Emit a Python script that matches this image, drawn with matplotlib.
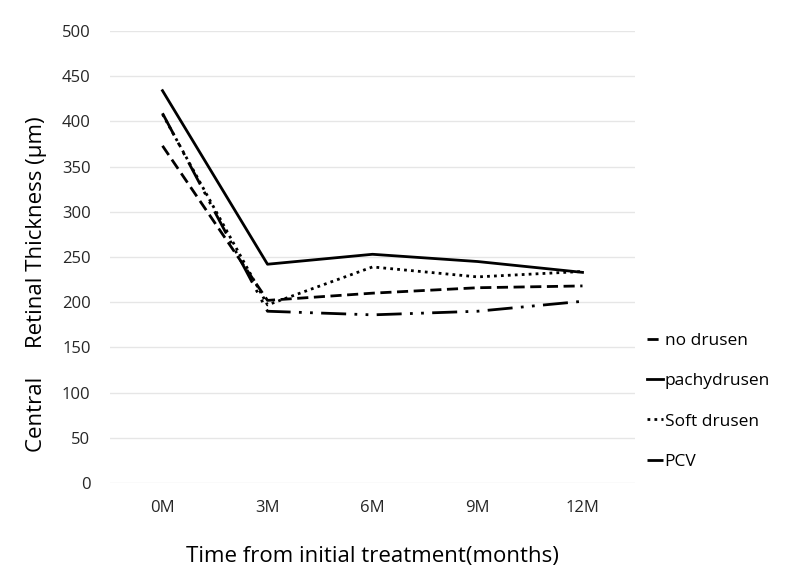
import matplotlib
matplotlib.use("Agg")
import matplotlib.pyplot as plt

months = ["0M", "3M", "6M", "9M", "12M"]
no_drusen = [373, 202, 210, 216, 218]
pachydrusen = [434, 242, 253, 245, 233]
soft_drusen = [408, 197, 239, 228, 234]
pcv = [409, 190, 186, 190, 201]

plt.rcParams['font.family'] = ['Open Sans', 'DejaVu Sans']

fig = plt.figure(figsize=(7.96, 5.83), dpi=100)
ax = fig.add_axes([110/796, 1 - 483/583, 525/796, 452/583])

x = range(len(months))
ax.plot(x, no_drusen, color='black', lw=2, linestyle=(0, (4, 2)), label='no drusen')
ax.plot(x, pachydrusen, color='black', lw=2, linestyle='-', label='pachydrusen')
ax.plot(x, soft_drusen, color='black', lw=2, linestyle=(0, (1, 1.5)), label='Soft drusen')
ax.plot(x, pcv, color='black', lw=2, linestyle=(0, (9, 3, 1, 3, 1, 3)), label='PCV')

ax.set_xlim(-0.5, 4.5)
ax.set_ylim(0, 500)
ax.set_yticks(range(0, 501, 50))
ax.set_xticks(list(x))
ax.set_xticklabels(months)
ax.yaxis.grid(True, color='#e6e6e6', lw=1)
ax.set_axisbelow(True)
for s in ax.spines.values():
    s.set_visible(False)
ax.tick_params(length=0, labelsize=12, colors='#262626', pad=14)
ax.tick_params(axis='x', pad=12)

ax.set_ylabel('Central     Retinal Thickness (μm)', fontsize=16)
ax.yaxis.set_label_coords(-0.12, 0.44)
ax.set_xlabel('Time from initial treatment(months)', fontsize=16, labelpad=22)

ax.legend(loc='upper left', bbox_to_anchor=(1.0, 0.36), frameon=False, fontsize=12.5,
          handlelength=0.9, handletextpad=0.1, labelspacing=1.4, borderaxespad=0.3)

fig.savefig('out.png', dpi=100)
